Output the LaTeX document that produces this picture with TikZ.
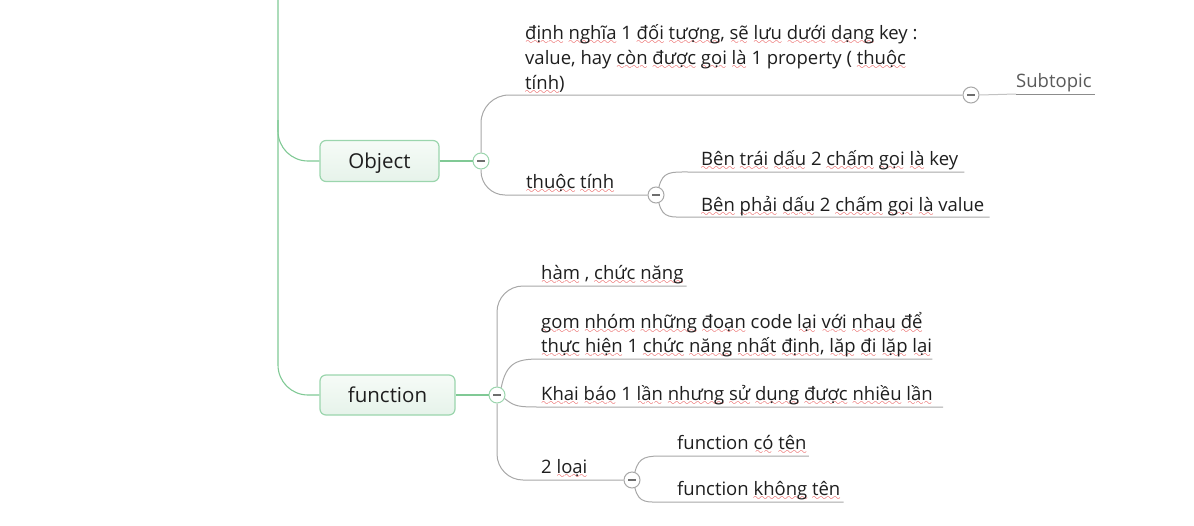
\documentclass[tikz,border=0pt]{standalone}
\usepackage{fontspec}
\setmainfont{Open Sans}
\usetikzlibrary{calc}
\definecolor{squig}{HTML}{E01E1E}
\definecolor{gline}{HTML}{80C995}
\definecolor{gborder}{HTML}{9BD5AD}
\definecolor{gtop}{HTML}{F6FBF7}
\definecolor{gbot}{HTML}{E6F3EA}
\definecolor{bline}{HTML}{A8A8A8}
\definecolor{uline}{HTML}{8C8C8C}
\definecolor{minus}{HTML}{6E6E6E}
\definecolor{txt}{HTML}{1E1E1E}
\definecolor{subtxt}{HTML}{5A5A5A}
\font\sqwave=lasy10 scaled 1000
\newsavebox\sqbox
\newcommand\sq[1]{\sbox\sqbox{#1}\leavevmode\rlap{\textcolor{squig}{\lower5pt\hbox to\wd\sqbox{\xleaders\hbox{\sqwave\char58}\hfil}}}\usebox{\sqbox}}
\begin{document}
\begin{tikzpicture}[x=1pt,y=-1pt,
  topic/.style={draw=gborder,line width=1.2pt,rounded corners=6pt,top color=gtop,bottom color=gbot,
    text=txt,font=\fontsize{20.5pt}{24pt}\selectfont,inner sep=0pt,text height=15pt,text depth=1pt},
  lbl/.style={anchor=base west,inner sep=0pt,text=txt,font=\fontsize{18.5pt}{25pt}\selectfont},
  collapse/.style={circle,draw=#1,fill=white,line width=1pt,minimum size=16pt,inner sep=0pt,
    path picture={\draw[line width=2pt,minus] ([xshift=-4pt]path picture bounding box.center) -- ([xshift=4pt]path picture bounding box.center);}},
  trunk/.style={draw=gline,line width=1.1pt},
  branch/.style={draw=bline,line width=1pt},
  ul/.style={draw=uline,line width=1pt},
]
\useasboundingbox (0,0) rectangle (1194,525);

% main topics
\node[topic,minimum width=119pt,minimum height=41pt] (obox) at (379.5,161) {Object};
\node[topic,minimum width=135pt,minimum height=40pt] (fbox) at (387.5,395) {function};

% collapse circles
\node[collapse=gborder] (ocirc) at (481,161) {};
\node[collapse=gborder] (fcirc) at (497,395) {};
\node[collapse=bline] (scirc) at (971,95) {};
\node[collapse=bline] (tcirc) at (656,195) {};
\node[collapse=bline] (lcirc) at (632,480) {};

% labels of Object
\node[lbl] (d1) at (525,39) {\sq{định} \sq{nghĩa} 1 \sq{đối} \sq{tượng}, \sq{sẽ} \sq{lưu} \sq{dưới} \sq{dạng} key :};
\node[lbl] (d2) at (525,64) {value, hay \sq{còn} \sq{được} \sq{gọi} \sq{là} 1 property ( \sq{thuộc}};
\node[lbl] (d3) at (525,89) {\sq{tính})};
\node[lbl,text=subtxt] (sub) at (1016,87) {Subtopic};
\node[lbl] (tt) at (526,188) {\sq{thuộc} \sq{tính}};
\node[lbl] (bt) at (701,165) {\sq{Bên} \sq{trái} \sq{dấu} 2 \sq{chấm} \sq{gọi} \sq{là} key};
\node[lbl] (bp) at (701,211) {\sq{Bên} \sq{phải} \sq{dấu} 2 \sq{chấm} \sq{gọi} \sq{là} value};

% labels of function
\node[lbl] (ham) at (541,279) {\sq{hàm} , \sq{chức} \sq{năng}};
\node[lbl] (g1) at (541,328) {\sq{gom} \sq{nhóm} \sq{những} \sq{đoạn} code \sq{lại} \sq{với} \sq{nhau} \sq{để}};
\node[lbl] (g2) at (541,352) {\sq{thực} \sq{hiện} 1 \sq{chức} \sq{năng} \sq{nhất} \sq{định}, \sq{lăp} \sq{đi} \sq{lặp} \sq{lại}};
\node[lbl] (kb) at (541,400) {\sq{Khai} \sq{báo} 1 \sq{lần} \sq{nhưng} \sq{sử} \sq{dụng} \sq{được} \sq{nhiều} \sq{lần}};
\node[lbl] (hl) at (541,473) {2 \sq{loại}};
\node[lbl] (fc) at (677,449) {function \sq{có} \sq{tên}};
\node[lbl] (fk) at (677,495) {function \sq{không} \sq{tên}};

% green trunk
\coordinate (top) at (278,0);
\coordinate (obr) at (278,120);
\draw[trunk,rounded corners=30pt] (top) |- (fbox.west);
\draw[trunk,rounded corners=30pt] (obr) |- (obox.west);
\draw[trunk] (obox.east) -- (ocirc.west);
\draw[trunk] (fbox.east) -- (fcirc.west);

% Object branches
\draw[branch,rounded corners=28pt] (ocirc.north) |- (scirc.west);
\draw[branch,rounded corners=24pt] (ocirc.south) |- (tcirc.west);
\coordinate (subA) at ($(sub.base west)+(0,7)$);
\draw[branch,draw=bline!70] (scirc.east) -- (subA);
\draw[ul] (subA) -- ($(sub.base east)+(3,7)$);

% thuộc tính branches
\draw[branch] (tcirc.70) .. controls +(4,-16) and +(-18,0) .. ($(bt.base west)+(-12,7)$) -- ($(bt.base east)+(6,7)$);
\draw[branch] (tcirc.-70) .. controls +(4,16) and +(-18,0) .. ($(bp.base west)+(-12,6)$) -- ($(bp.base east)+(5,6)$);

% function branches
\draw[branch,rounded corners=26pt] (fcirc.north) |- ($(ham.base east)+(3,7)$);
\draw[branch,rounded corners=26pt] (fcirc.south) |- (lcirc.west);
\draw[branch] (fcirc.60) .. controls +(5,-26) and +(-22,0) .. ($(g2.base west)+(-1,7)$) -- ($(g2.base east)+(0,7)$);
\draw[branch] (fcirc.-25) .. controls +(10,8) and +(-22,0) .. ($(kb.base west)+(-1,7)$) -- ($(kb.base east)+(10,7)$);

% 2 loại branches
\draw[branch] (lcirc.70) .. controls +(4,-16) and +(-18,0) .. ($(fc.base west)+(-12,7)$) -- ($(fc.base east)+(2,7)$);
\draw[branch] (lcirc.-70) .. controls +(4,16) and +(-18,0) .. ($(fk.base west)+(-12,7)$) -- ($(fk.base east)+(3,7)$);
\end{tikzpicture}
\end{document}
